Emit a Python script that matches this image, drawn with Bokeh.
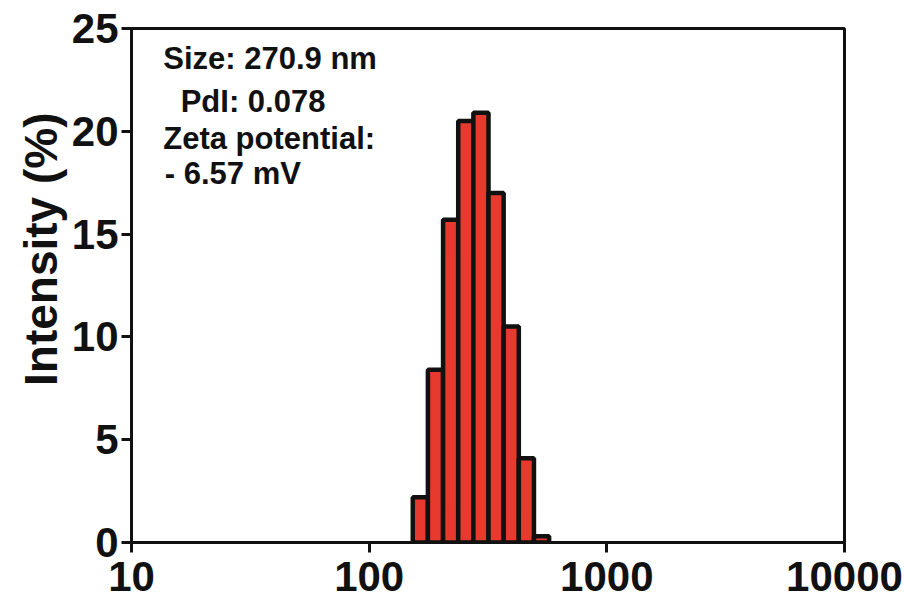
import numpy as np
from bokeh.plotting import figure
from bokeh.models import Range1d, FixedTicker, Label, Title
from bokeh.embed import file_html
from bokeh.resources import INLINE

# Data (DLS size distribution by intensity)
size_nm = [164.2, 190.1, 220.2, 255.0, 295.3, 342.0, 396.1, 458.7, 531.2]
intensity = [2.2, 8.4, 15.7, 20.5, 20.9, 17.0, 10.5, 4.1, 0.3]
bin_ratio = 1.158

x_ticks = [10, 100, 1000, 10000]
x_tick_labels = ["10", "100", "1000", "10000"]
y_ticks = [0, 5, 10, 15, 20, 25]
y_title = "Intensity (%)"

notes = ["Size: 270.9 nm", "PdI: 0.078", "Zeta potential:", "- 6.57 mV"]
note_x = [13.6, 16.1, 13.6, 13.8]
note_y = [23.55, 21.45, 19.65, 17.95]

FONT = "Liberation Sans"

p = figure(width=904, height=600, x_axis_type="log",
           x_range=Range1d(10, 10000), y_range=Range1d(0, 25),
           output_backend="svg", toolbar_location=None,
           min_border_left=131, min_border_right=60,
           min_border_top=28, min_border_bottom=58)

s = np.array(size_nm)
left = s / np.sqrt(bin_ratio)
right = s * np.sqrt(bin_ratio)
p.quad(left=left, right=right, bottom=0, top=intensity,
       fill_color="#e8392e", line_color="#111111", line_width=4.5)

p.xgrid.visible = False
p.ygrid.visible = False
p.outline_line_color = "#111111"
p.outline_line_width = 3
p.background_fill_color = "white"
p.border_fill_color = "white"

for ax in (p.xaxis[0], p.yaxis[0]):
    ax.axis_line_width = 3
    ax.axis_line_color = "#111111"
    ax.major_tick_line_width = 3
    ax.major_tick_line_color = "#111111"
    ax.major_tick_out = 10
    ax.major_tick_in = 0
    ax.minor_tick_line_color = None
    ax.major_label_text_font = FONT
    ax.major_label_text_font_style = "bold"
    ax.major_label_text_font_size = "42px"
    ax.major_label_text_color = "#111111"

p.xaxis[0].ticker = FixedTicker(ticks=x_ticks)
p.xaxis[0].major_label_overrides = {t: l for t, l in zip(x_ticks, x_tick_labels)}
p.xaxis[0].major_label_standoff = 9

p.yaxis[0].ticker = FixedTicker(ticks=y_ticks)
p.yaxis[0].major_label_standoff = 3

# y-axis title as a side title (placed slightly above centre, as in the reference)
p.add_layout(Title(text=y_title, align="right", offset=84, standoff=4,
                   text_font=FONT, text_font_style="bold",
                   text_font_size="46px", text_color="#111111"), "left")

for t, x, y in zip(notes, note_x, note_y):
    p.add_layout(Label(x=x, y=y, text=t, text_font=FONT, text_font_style="bold",
                       text_font_size="31px", text_color="#111111",
                       text_baseline="middle"))

open("out.html", "w").write(file_html(p, INLINE))
